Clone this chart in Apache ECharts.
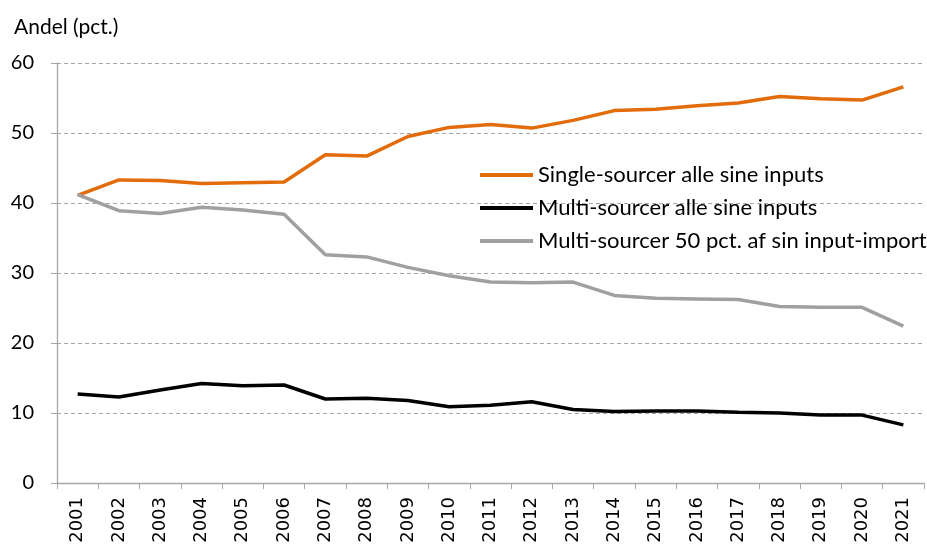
<!DOCTYPE html>
<html>
<head>
<meta charset="utf-8">
<script src="https://cdn.jsdelivr.net/npm/echarts@6/dist/echarts.min.js"></script>
<style>html,body{margin:0;padding:0;background:#fff}#c{width:927px;height:547px}</style>
</head>
<body>
<div id="c"></div>
<script>
const years = ['2001','2002','2003','2004','2005','2006','2007','2008','2009','2010','2011','2012','2013','2014','2015','2016','2017','2018','2019','2020','2021'];
const singleAll = [41.1,43.3,43.2,42.8,42.9,43.0,46.9,46.7,49.5,50.8,51.2,50.7,51.8,53.2,53.4,53.9,54.3,55.2,54.9,54.7,56.6];
const multiAll = [12.7,12.3,13.3,14.2,13.9,14.0,12.0,12.1,11.8,10.9,11.1,11.6,10.5,10.2,10.3,10.3,10.1,10.0,9.7,9.7,8.3];
const multi50 = [41.2,38.9,38.5,39.4,39.0,38.4,32.6,32.3,30.8,29.6,28.7,28.6,28.7,26.8,26.4,26.3,26.2,25.2,25.1,25.1,22.4];
const names = ['Single-sourcer alle sine inputs','Multi-sourcer alle sine inputs','Multi-sourcer 50 pct. af sin input-import'];
const colors = ['#E36C0A','#000000','#A0A0A0'];
const yTicks = {min:0, max:60, interval:10};

const chart = echarts.init(document.getElementById('c'), null, {renderer:'canvas'});
const font = 'Lato, "Open Sans", sans-serif';
chart.setOption({
  animation:false,
  title:{text:'Andel (pct.)', left:9, top:12, textStyle:{fontFamily:font, fontSize:21, fontWeight:'normal', color:'#000'}},
  grid:{left:57, right:3, top:63, bottom:64, containLabel:false},
  legend:{
    orient:'vertical', left:475, top:159, itemWidth:53, itemHeight:4, itemGap:11, icon:'rect',
    textStyle:{fontFamily:font, fontSize:22, color:'#000'},
    data:names
  },
  xAxis:{
    type:'category', data:years, boundaryGap:true,
    axisLine:{lineStyle:{color:'#A6A6A6', width:1.3}},
    axisTick:{show:true, interval:0, length:6, lineStyle:{color:'#A6A6A6'}},
    axisLabel:{rotate:90, interval:0, margin:14, fontFamily:'"DejaVu Sans", sans-serif', fontSize:18, color:'#000'}
  },
  yAxis:{
    type:'value', min:yTicks.min, max:yTicks.max, interval:yTicks.interval,
    axisLine:{show:true, lineStyle:{color:'#A6A6A6', width:1.3}},
    axisTick:{show:true, length:6, lineStyle:{color:'#A6A6A6'}},
    axisLabel:{margin:23, fontFamily:font, fontSize:20, color:'#000'},
    splitLine:{show:true, lineStyle:{color:'#A6A6A6', type:[4,3], width:1}}
  },
  series:[
    {name:names[0], type:'line', data:singleAll, showSymbol:false, symbol:'none', lineStyle:{width:3.5, color:colors[0]}, itemStyle:{color:colors[0]}},
    {name:names[1], type:'line', data:multiAll, showSymbol:false, symbol:'none', lineStyle:{width:3.5, color:colors[1]}, itemStyle:{color:colors[1]}},
    {name:names[2], type:'line', data:multi50, showSymbol:false, symbol:'none', lineStyle:{width:3.5, color:colors[2]}, itemStyle:{color:colors[2]}}
  ]
});
</script>
</body>
</html>
